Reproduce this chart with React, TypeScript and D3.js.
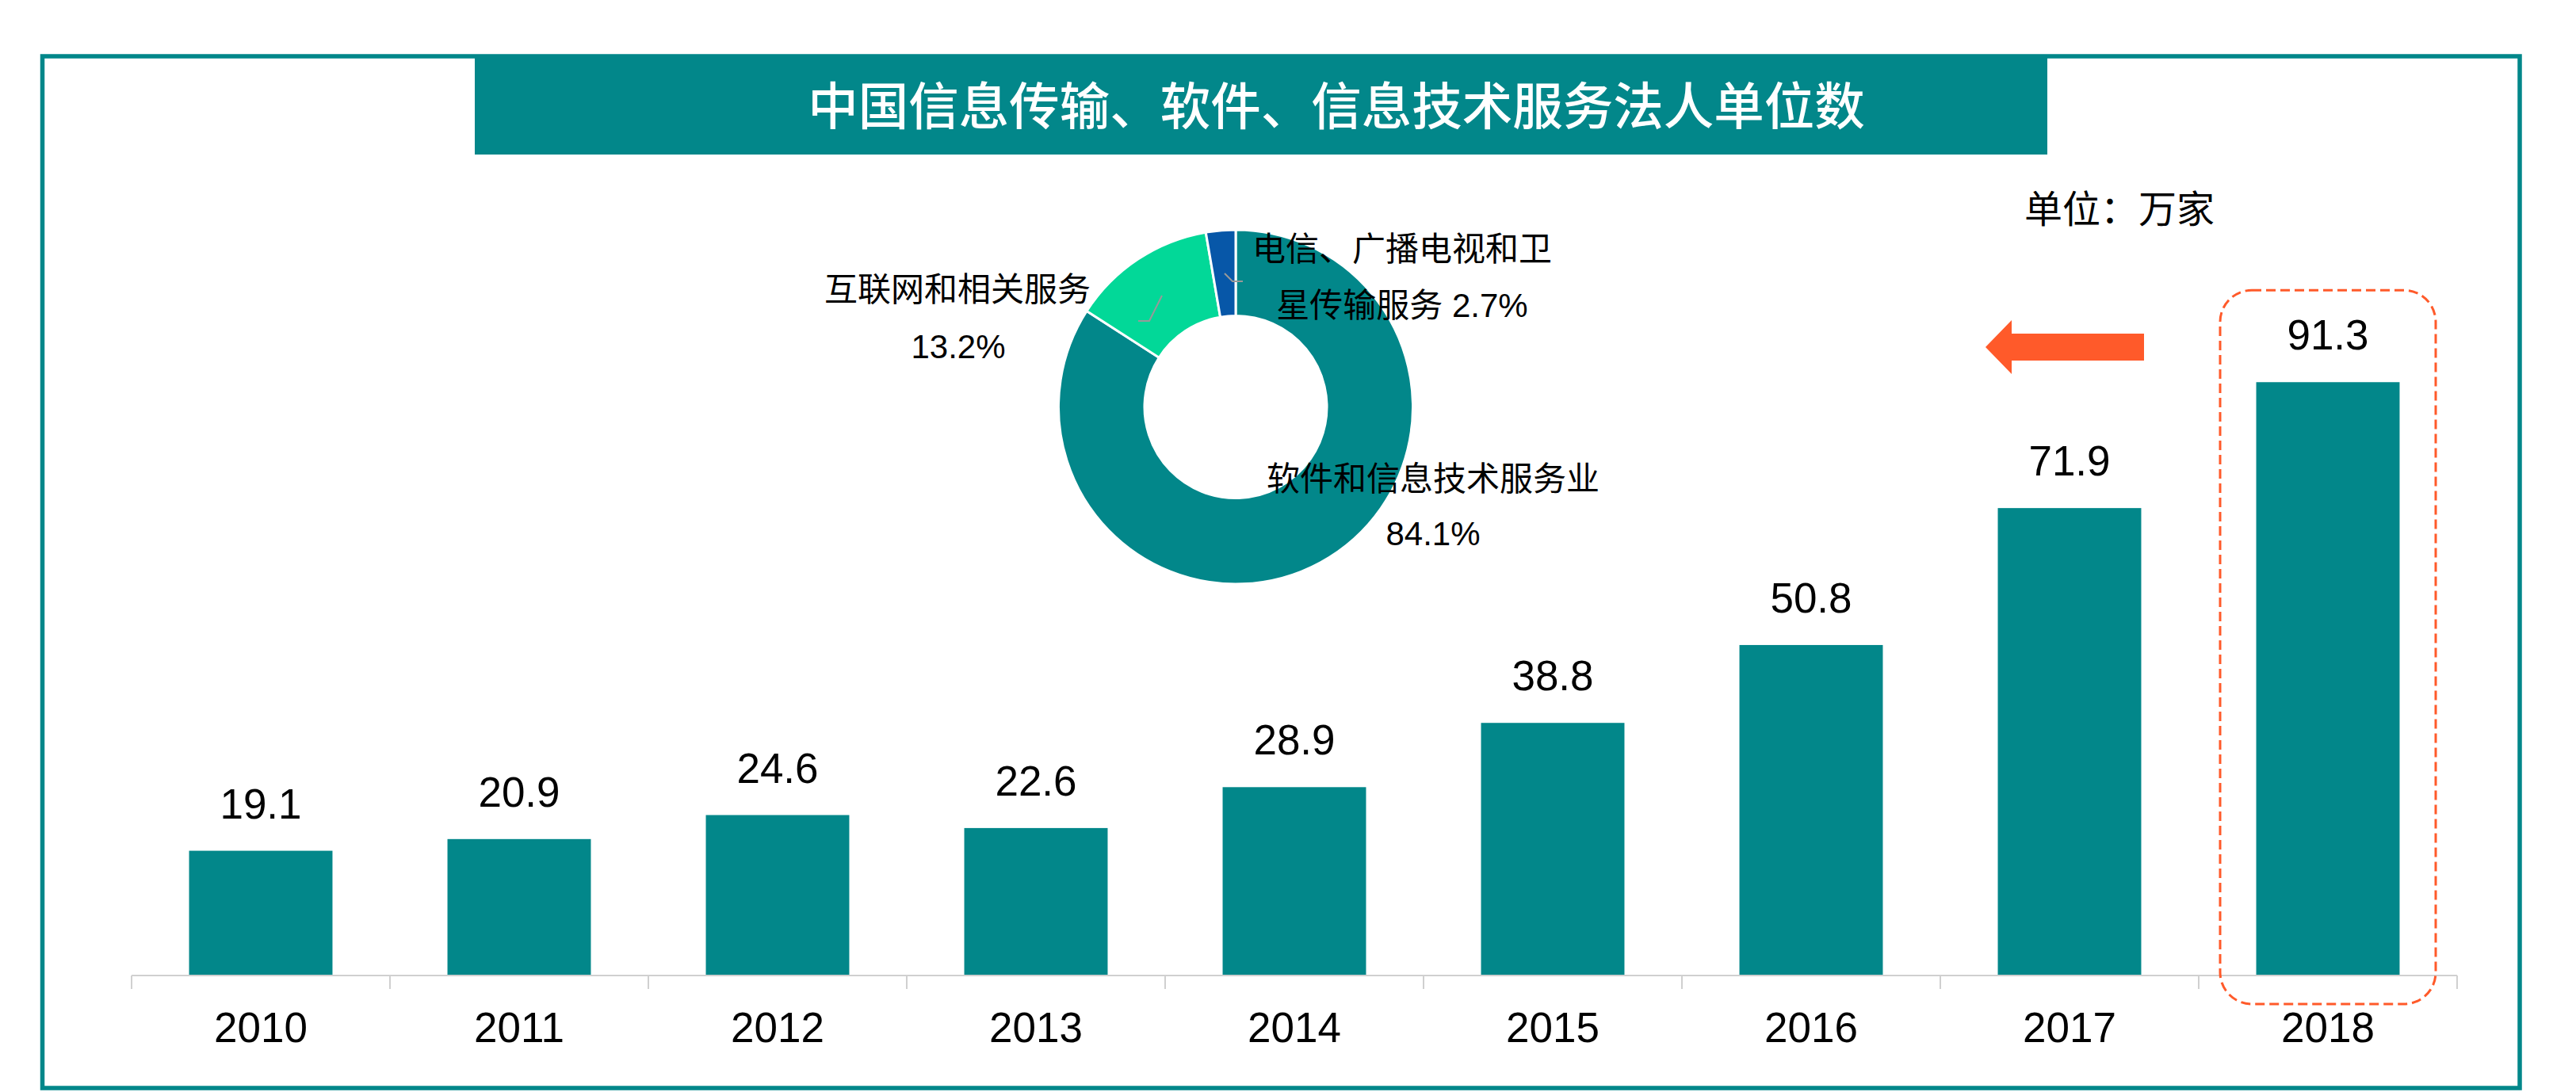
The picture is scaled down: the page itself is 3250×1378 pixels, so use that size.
import React from "react";
import * as d3 from "d3";

const years = ["2010", "2011", "2012", "2013", "2014", "2015", "2016", "2017", "2018"];
const values = [19.1, 20.9, 24.6, 22.6, 28.9, 38.8, 50.8, 71.9, 91.3];

const pieNames = ["软件和信息技术服务业", "互联网和相关服务", "电信、广播电视和卫星传输服务"];
const pieValues = [84.1, 13.2, 2.7];
const pieColors = ["#02878A", "#02D898", "#0757A8"];

const title = "中国信息传输、软件、信息技术服务法人单位数";
const unitText = "单位：万家";

const TEAL = "#02878A";
const ORANGE = "#FF5A2A";
const CJK = "'Noto Sans CJK SC', sans-serif";
const NUM = "'Liberation Sans', 'Noto Sans CJK SC', sans-serif";

export default function App() {
  React.useEffect(() => {
    document.body.style.margin = "0";
  }, []);

  const W = 3250;
  const H = 1378;

  const x = d3.scaleBand<string>().domain(years).range([166, 3100]).paddingInner(0.445).paddingOuter(0.2225);
  const y = d3.scaleLinear().domain([0, 100]).range([1230, 1230 - 819]);
  const step = x.step();
  const axisStart = 166;
  const axisEnd = 3100;

  const cx = 1559;
  const cy = 513.5;
  const pie = d3.pie<number>().sort(null).value((d) => d);
  const arcs = pie(pieValues);
  const arcGen = d3.arc<d3.PieArcDatum<number>>().innerRadius(115).outerRadius(223.5);

  const last = years[years.length - 1];
  const lastCenter = (x(last) as number) + x.bandwidth() / 2;
  const lastTop = y(values[values.length - 1]);

  return (
    <svg
      width={W}
      height={H}
      style={{ position: "absolute", left: 0, top: 0, display: "block", background: "#fff" }}
    >
      {/* frame */}
      <rect x={53.5} y={71} width={3125.5} height={1302} fill="none" stroke={TEAL} strokeWidth={5.5} />
      {/* title box */}
      <rect x={599} y={71} width={1984} height={124} fill={TEAL} />
      <text
        x={1686}
        y={129}
        fill="#fff"
        fontFamily={CJK}
        fontSize={63.5}
        fontWeight={500}
        textAnchor="middle"
        dominantBaseline="central"
      >
        {title}
      </text>

      {/* unit */}
      <text x={2554} y={281} fontFamily={CJK} fontSize={48} fill="#000">
        {unitText}
      </text>

      {/* bars */}
      {years.map((yr, i) => (
        <rect
          key={yr}
          x={x(yr)}
          y={y(values[i])}
          width={x.bandwidth()}
          height={y(0) - y(values[i])}
          fill={TEAL}
        />
      ))}
      {years.map((yr, i) => (
        <text
          key={"v" + yr}
          x={(x(yr) as number) + x.bandwidth() / 2}
          y={y(values[i]) - 41}
          fontFamily={NUM}
          fontSize={53}
          textAnchor="middle"
          fill="#000"
        >
          {values[i].toFixed(1)}
        </text>
      ))}

      {/* axis */}
      <line x1={axisStart} x2={axisEnd} y1={1231} y2={1231} stroke="#D0D0D0" strokeWidth={2} />
      {d3.range(years.length + 1).map((i) => (
        <line
          key={"t" + i}
          x1={axisStart + i * step}
          x2={axisStart + i * step}
          y1={1231}
          y2={1248}
          stroke="#D0D0D0"
          strokeWidth={2}
        />
      ))}
      {years.map((yr) => (
        <text
          key={"l" + yr}
          x={(x(yr) as number) + x.bandwidth() / 2}
          y={1315}
          fontFamily={NUM}
          fontSize={53}
          textAnchor="middle"
          fill="#000"
        >
          {yr}
        </text>
      ))}

      {/* highlight dashed box */}
      <rect
        x={lastCenter - 136}
        y={lastTop - 116}
        width={272}
        height={1267 - (lastTop - 116)}
        rx={40}
        ry={40}
        fill="none"
        stroke={ORANGE}
        strokeWidth={3}
        strokeDasharray="12 6"
      />

      {/* arrow */}
      <path
        d="M2505,438 L2538,404 L2538,421 L2705,421 L2705,455 L2538,455 L2538,472 Z"
        fill={ORANGE}
      />

      {/* donut */}
      <g transform={`translate(${cx},${cy})`}>
        {arcs.map((a, i) => (
          <path key={"a" + i} d={arcGen(a) || ""} fill={pieColors[i]} stroke="#fff" strokeWidth={3} />
        ))}
      </g>
      {/* leader lines */}
      <polyline points="1545,345 1555,355 1568,355" fill="none" stroke="#999" strokeWidth={2} />
      <polyline points="1466,373 1450,405 1436,405" fill="none" stroke="#999" strokeWidth={2} />

      {/* donut labels */}
      <text x={1769} y={329} fontFamily={NUM} fontSize={42} textAnchor="middle" fill="#000">
        {pieNames[2].slice(0, 9)}
      </text>
      <text x={1769} y={400} fontFamily={NUM} fontSize={42} textAnchor="middle" fill="#000">
        {pieNames[2].slice(9) + " " + pieValues[2].toFixed(1) + "%"}
      </text>
      <text x={1208} y={380} fontFamily={NUM} fontSize={42} textAnchor="middle" fill="#000">
        {pieNames[1]}
      </text>
      <text x={1209} y={452} fontFamily={NUM} fontSize={42} textAnchor="middle" fill="#000">
        {pieValues[1].toFixed(1) + "%"}
      </text>
      <text x={1808} y={619} fontFamily={NUM} fontSize={42} textAnchor="middle" fill="#000">
        {pieNames[0]}
      </text>
      <text x={1808} y={688} fontFamily={NUM} fontSize={42} textAnchor="middle" fill="#000">
        {pieValues[0].toFixed(1) + "%"}
      </text>
    </svg>
  );
}
